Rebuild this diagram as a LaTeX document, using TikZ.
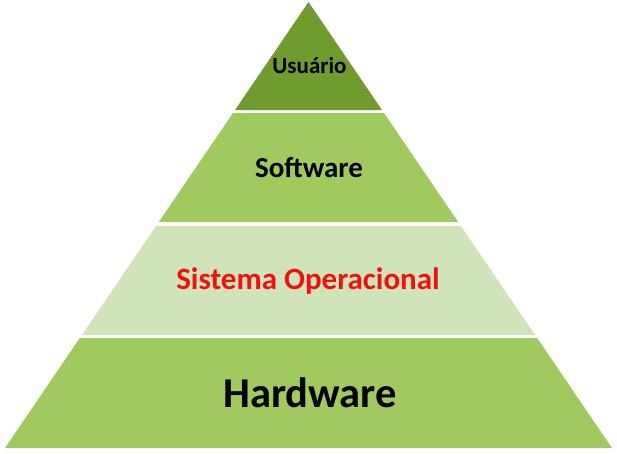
\documentclass[tikz,border=0pt]{standalone}
\usepackage{fontspec}
\setmainfont{Carlito}
\definecolor{usr}{HTML}{709B2E}
\definecolor{lay}{HTML}{A0C95F}
\definecolor{sis}{HTML}{D1E4B9}
\definecolor{sisred}{HTML}{EE1111}
\tikzset{
  layer/.style={draw=none},
  lbl/.style={font=\bfseries, inner sep=0pt, anchor=center}
}
\begin{document}
\begin{tikzpicture}[x=1pt,y=-1pt]
\useasboundingbox (0,0) rectangle (617,453);
% layers
\fill[usr] (308.5,2) -- (382,110) -- (235,110) -- cycle;
\fill[lay] (233,113) -- (384,113) -- (458.2,222) -- (158.8,222) -- cycle;
\fill[sis] (156.1,226) -- (460.9,226) -- (535.1,335) -- (81.9,335) -- cycle;
\fill[lay] (79.8,338) -- (537.2,338) -- (612,448) -- (5,448) -- cycle;
% labels
\node[lbl, font=\bfseries\fontsize{23}{26}\selectfont] (usuario) at (309.5,66) {Usuário};
\node[lbl, font=\bfseries\fontsize{29}{34}\selectfont] (software) at (309,168) {Software};
\node[lbl, font=\bfseries\fontsize{31}{36}\selectfont, text=sisred] (so) at (308,281) {Sistema Operacional};
\node[lbl, font=\bfseries\fontsize{42.5}{50}\selectfont] (hardware) at (310,393) {Hardware};
\end{tikzpicture}
\end{document}
